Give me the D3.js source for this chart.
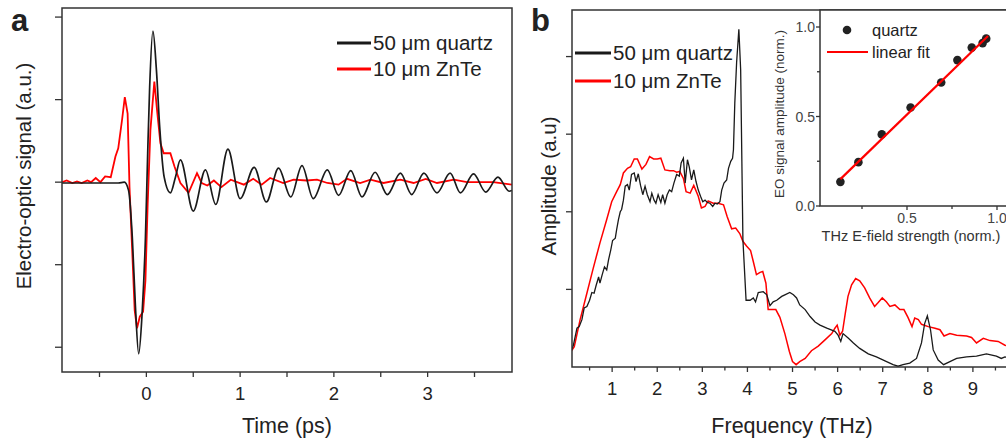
<!DOCTYPE html>
<html>
<head>
<meta charset="utf-8">
<script src="https://cdn.jsdelivr.net/npm/d3@7"></script>
<style>
  body { margin: 0; background: #fff; }
  svg { font-family: "Liberation Sans", Arial, sans-serif; }
</style>
</head>
<body>
<svg id="chart" width="1006" height="439"></svg>
<script>
// ---- panel a : time traces [time (ps), signal (a.u.)]
const quartzTrace = [[-0.9,-0.01],[-0.3,-0.01],[-0.235,0.0],[-0.19,-0.1],[-0.15,-0.67],[-0.117,-1.5],[-0.082,-2.08],[-0.046,-1.6],[-0.01,-0.67],[0.014,0.35],[0.035,1.15],[0.07,1.83],[0.107,1.36],[0.142,0.67],[0.19,0.06],[0.256,-0.13],[0.31,0.06],[0.363,0.27],[0.5,-0.35],[0.63,0.15],[0.74,-0.27],[0.87,0.4],[1.0,-0.2],[1.15,0.18],[1.28,-0.24],[1.41,0.17],[1.54,-0.18],[1.66,0.2],[1.78,-0.2],[1.93,0.15],[2.05,-0.16],[2.18,0.14],[2.3,-0.18],[2.44,0.12],[2.57,-0.15],[2.71,0.11],[2.83,-0.15],[2.96,0.11],[3.1,-0.13],[3.24,0.11],[3.35,-0.13],[3.49,0.1],[3.62,-0.12],[3.75,0.06],[3.87,-0.11],[3.9,-0.1]];
const znteTrace = [[-0.9,0.0],[-0.85,0.02],[-0.79,-0.01],[-0.74,0.01],[-0.69,-0.01],[-0.63,0.02],[-0.59,0.0],[-0.54,0.05],[-0.49,0.0],[-0.44,0.07],[-0.38,0.06],[-0.33,0.31],[-0.3,0.41],[-0.26,0.75],[-0.23,1.03],[-0.2,0.83],[-0.18,-0.06],[-0.15,-0.86],[-0.125,-1.55],[-0.1,-1.77],[-0.07,-1.63],[-0.035,-1.57],[-0.01,-1.19],[0.014,-0.26],[0.043,0.63],[0.085,1.22],[0.114,0.87],[0.15,0.47],[0.185,0.35],[0.256,0.35],[0.3,0.19],[0.363,-0.01],[0.45,-0.13],[0.54,0.11],[0.59,-0.01],[0.65,-0.04],[0.72,0.02],[0.8,-0.06],[0.9,0.03],[1.04,-0.03],[1.14,0.04],[1.23,-0.03],[1.32,0.05],[1.46,-0.01],[1.57,0.03],[1.71,0.02],[1.82,0.03],[1.93,-0.01],[2.05,-0.03],[2.14,0.04],[2.28,-0.01],[2.39,0.03],[2.53,-0.01],[2.71,0.03],[2.85,-0.01],[2.98,0.04],[3.1,-0.01],[3.28,0.03],[3.42,0.0],[3.56,0.0],[3.7,0.0],[3.9,-0.03]];
const timeTicks = [0, 1, 2, 3];
const timeMinor = [-0.5, 0.5, 1.5, 2.5, 3.5];
const signalTicks = [-2, -1, 0, 1, 2];

// ---- panel b : spectra [frequency (THz), amplitude (a.u.)]
const quartzSpectrum = [[0.1,0.22],[0.14,0.28],[0.22,0.5],[0.27,0.52],[0.33,0.61],[0.38,0.76],[0.44,0.78],[0.5,0.86],[0.55,0.96],[0.6,0.95],[0.64,1.04],[0.7,1.16],[0.73,1.08],[0.78,1.19],[0.83,1.29],[0.88,1.25],[0.92,1.38],[0.97,1.51],[1.01,1.63],[1.07,1.66],[1.1,1.77],[1.14,1.9],[1.18,2.0],[1.21,2.03],[1.25,2.15],[1.29,2.33],[1.34,2.35],[1.38,2.28],[1.43,2.48],[1.49,2.5],[1.53,2.39],[1.58,2.49],[1.63,2.34],[1.68,2.22],[1.73,2.33],[1.78,2.22],[1.84,2.13],[1.88,2.24],[1.93,2.15],[1.97,2.11],[2.02,2.22],[2.08,2.12],[2.12,2.22],[2.17,2.11],[2.22,2.22],[2.27,2.28],[2.32,2.26],[2.37,2.37],[2.43,2.48],[2.49,2.46],[2.53,2.63],[2.58,2.69],[2.62,2.37],[2.67,2.67],[2.71,2.58],[2.76,2.41],[2.81,2.54],[2.86,2.39],[2.91,2.28],[2.96,2.2],[3.01,2.13],[3.06,2.15],[3.11,2.12],[3.17,2.11],[3.23,2.07],[3.28,2.11],[3.33,2.1],[3.39,2.13],[3.43,2.28],[3.48,2.37],[3.54,2.41],[3.58,2.56],[3.63,2.65],[3.67,2.69],[3.69,2.8],[3.72,3.4],[3.76,3.92],[3.81,4.35],[3.85,3.83],[3.89,2.07],[3.9,1.64],[3.97,0.86],[4.06,0.86],[4.13,0.89],[4.18,0.84],[4.24,0.96],[4.35,0.97],[4.43,0.93],[4.5,0.79],[4.57,0.84],[4.65,0.86],[4.76,0.91],[4.83,0.93],[4.94,0.96],[5.02,0.93],[5.09,0.89],[5.16,0.8],[5.28,0.74],[5.39,0.65],[5.5,0.58],[5.61,0.54],[5.76,0.5],[5.94,0.46],[6.01,0.41],[6.07,0.33],[6.12,0.43],[6.24,0.37],[6.35,0.31],[6.49,0.24],[6.68,0.17],[6.86,0.13],[7.05,0.08],[7.23,0.03],[7.34,0.01],[7.45,0.03],[7.6,0.05],[7.75,0.11],[7.86,0.31],[7.93,0.56],[7.99,0.66],[8.06,0.48],[8.12,0.22],[8.23,0.09],[8.35,0.03],[8.49,0.07],[8.64,0.11],[8.86,0.13],[9.08,0.14],[9.3,0.17],[9.52,0.14],[9.63,0.11],[9.71,0.13],[9.8,0.12]];
const znteSpectrum = [[0.09,0.2],[0.16,0.26],[0.29,0.61],[0.44,0.95],[0.58,1.27],[0.73,1.6],[0.88,1.9],[0.99,2.13],[1.1,2.26],[1.18,2.35],[1.25,2.5],[1.34,2.56],[1.41,2.58],[1.49,2.68],[1.56,2.68],[1.66,2.55],[1.75,2.61],[1.83,2.71],[1.92,2.68],[2.0,2.68],[2.08,2.69],[2.17,2.54],[2.28,2.53],[2.36,2.53],[2.43,2.51],[2.5,2.52],[2.58,2.43],[2.64,2.26],[2.73,2.24],[2.81,2.34],[2.91,2.2],[2.98,2.05],[3.06,2.07],[3.13,2.14],[3.24,2.11],[3.35,2.11],[3.47,2.09],[3.55,1.94],[3.65,1.78],[3.74,1.79],[3.83,1.72],[3.9,1.62],[3.98,1.56],[4.07,1.5],[4.13,1.36],[4.2,1.19],[4.28,1.22],[4.34,1.23],[4.41,1.08],[4.46,0.74],[4.56,0.74],[4.63,0.74],[4.72,0.64],[4.83,0.43],[4.93,0.2],[5.0,0.07],[5.08,0.03],[5.16,0.07],[5.28,0.11],[5.42,0.21],[5.57,0.27],[5.72,0.35],[5.87,0.43],[5.94,0.5],[5.99,0.54],[6.05,0.41],[6.11,0.46],[6.17,0.69],[6.23,0.91],[6.31,1.06],[6.4,1.14],[6.49,1.11],[6.6,1.02],[6.71,0.89],[6.82,0.78],[6.9,0.83],[6.99,0.89],[7.08,0.84],[7.16,0.78],[7.27,0.8],[7.38,0.74],[7.47,0.74],[7.56,0.64],[7.65,0.52],[7.71,0.63],[7.79,0.61],[7.86,0.55],[8.01,0.52],[8.16,0.5],[8.27,0.48],[8.36,0.4],[8.49,0.43],[8.64,0.41],[8.86,0.4],[8.97,0.38],[9.08,0.31],[9.23,0.37],[9.38,0.34],[9.56,0.33],[9.71,0.28],[9.8,0.27]];
const freqTicks = [1, 2, 3, 4, 5, 6, 7, 8, 9];
const freqMinor = [0.5, 1.5, 2.5, 3.5, 4.5, 5.5, 6.5, 7.5, 8.5, 9.5];
const ampTicks = [1, 2, 3, 4];

// ---- inset : EO amplitude vs field strength
const fieldStrength = [0.13, 0.23, 0.36, 0.52, 0.69, 0.78, 0.86, 0.92, 0.94];
const eoAmplitude   = [0.135, 0.245, 0.40, 0.55, 0.69, 0.815, 0.885, 0.91, 0.935];
const fitLine = [[0.13, 0.15], [0.95, 0.95]];
const insetTicks = [0, 0.5, 1.0];
const insetMinor = [0.25, 0.75];

const BLACK = '#1a1a1a';
const RED = '#ff0000';
const AXIS = '#333';
const TEXT = '#222';

const svg = d3.select('#chart');

// clip helper
function addClip(id, x, y, w, h) {
  svg.append('clipPath').attr('id', id)
    .append('rect').attr('x', x).attr('y', y).attr('width', w).attr('height', h);
}

// tick helper : draws tick marks for a set of values
function ticks(g, vals, scale, orient, pos, len) {
  vals.forEach(v => {
    const p = scale(v);
    if (orient === 'bottom')
      g.append('line').attr('x1', p).attr('x2', p).attr('y1', pos).attr('y2', pos + len);
    else
      g.append('line').attr('y1', p).attr('y2', p).attr('x1', pos).attr('x2', pos - len);
  });
  g.attr('stroke', AXIS).attr('stroke-width', 1.3);
}

/* ================= PANEL A ================= */
const xA = d3.scaleLinear().domain([-0.9, 3.9]).range([62, 512]);
const yA = d3.scaleLinear().domain([-2.3, 2.11]).range([372, 8]);

addClip('clipA', 62, 8, 450, 364);

const lineA = d3.line().x(d => xA(d[0])).y(d => yA(d[1]));

svg.append('path')
  .attr('d', lineA.curve(d3.curveLinear)(znteTrace))
  .attr('clip-path', 'url(#clipA)')
  .attr('fill', 'none').attr('stroke', RED).attr('stroke-width', 1.8);

svg.append('path')
  .attr('d', lineA.curve(d3.curveMonotoneX)(quartzTrace))
  .attr('clip-path', 'url(#clipA)')
  .attr('fill', 'none').attr('stroke', BLACK).attr('stroke-width', 1.7);

// frame
svg.append('rect').attr('x', 62).attr('y', 8).attr('width', 450).attr('height', 364)
  .attr('fill', 'none').attr('stroke', AXIS).attr('stroke-width', 1.5);

ticks(svg.append('g'), timeTicks.concat(timeMinor), xA, 'bottom', 372, 5);
ticks(svg.append('g'), signalTicks, yA, 'left', 62, 7);

svg.append('g').selectAll('text').data(timeTicks).join('text')
  .attr('x', d => xA(d)).attr('y', 400)
  .attr('text-anchor', 'middle').style('font-size', '18.5px').style('fill', TEXT)
  .text(d => d);

svg.append('text').attr('x', 287).attr('y', 433).attr('text-anchor', 'middle')
  .style('font-size', '21.5px').style('fill', TEXT).text('Time (ps)');

svg.append('text').attr('transform', 'translate(31,176) rotate(-90)').attr('text-anchor', 'middle')
  .style('font-size', '20.5px').style('fill', TEXT).text('Electro-optic signal (a.u.)');

svg.append('text').attr('x', 11).attr('y', 31).style('font-size', '31px').style('font-weight', 'bold')
  .style('fill', TEXT).text('a');

// legend a
svg.append('line').attr('x1', 337).attr('x2', 371).attr('y1', 43).attr('y2', 43).attr('stroke', BLACK).attr('stroke-width', 3);
svg.append('text').attr('x', 373).attr('y', 50).style('font-size', '20.5px').style('fill', TEXT).text('50 \u03bcm quartz');
svg.append('line').attr('x1', 337).attr('x2', 371).attr('y1', 69).attr('y2', 69).attr('stroke', RED).attr('stroke-width', 3);
svg.append('text').attr('x', 373).attr('y', 76).style('font-size', '20.5px').style('fill', TEXT).text('10 \u03bcm ZnTe');

/* ================= PANEL B ================= */
const xB = d3.scaleLinear().domain([0.11, 10]).range([572, 1018]);
const yB = d3.scaleLinear().domain([0, 4.6]).range([367, 10]);

addClip('clipB', 572, 10, 446, 357);

const lineB = d3.line().x(d => xB(d[0])).y(d => yB(d[1]));

svg.append('path').attr('d', lineB(znteSpectrum)).attr('clip-path', 'url(#clipB)')
  .attr('fill', 'none').attr('stroke', RED).attr('stroke-width', 1.5);
svg.append('path').attr('d', lineB(quartzSpectrum)).attr('clip-path', 'url(#clipB)')
  .attr('fill', 'none').attr('stroke', BLACK).attr('stroke-width', 1.3);

svg.append('rect').attr('x', 572).attr('y', 10).attr('width', 446).attr('height', 357)
  .attr('fill', 'none').attr('stroke', AXIS).attr('stroke-width', 1.5);

ticks(svg.append('g'), freqTicks, xB, 'bottom', 367, 5);
ticks(svg.append('g'), freqMinor, xB, 'bottom', 367, 3.5);
ticks(svg.append('g'), ampTicks, yB, 'left', 572, 6);

svg.append('g').selectAll('text').data(freqTicks).join('text')
  .attr('x', d => xB(d)).attr('y', 395)
  .attr('text-anchor', 'middle').style('font-size', '18.5px').style('fill', TEXT)
  .text(d => d);

svg.append('text').attr('x', 792).attr('y', 433).attr('text-anchor', 'middle')
  .style('font-size', '21.5px').style('fill', TEXT).text('Frequency (THz)');

svg.append('text').attr('transform', 'translate(556,186) rotate(-90)').attr('text-anchor', 'middle')
  .style('font-size', '20.5px').style('fill', TEXT).text('Amplitude (a.u)');

svg.append('text').attr('x', 531).attr('y', 31).style('font-size', '31px').style('font-weight', 'bold')
  .style('fill', TEXT).text('b');

// legend b
svg.append('line').attr('x1', 575).attr('x2', 611).attr('y1', 53).attr('y2', 53).attr('stroke', BLACK).attr('stroke-width', 3);
svg.append('text').attr('x', 613).attr('y', 60).style('font-size', '20.5px').style('fill', TEXT).text('50 \u03bcm quartz');
svg.append('line').attr('x1', 575).attr('x2', 611).attr('y1', 81).attr('y2', 81).attr('stroke', RED).attr('stroke-width', 3);
svg.append('text').attr('x', 613).attr('y', 88).style('font-size', '20.5px').style('fill', TEXT).text('10 \u03bcm ZnTe');

/* ================= INSET ================= */
const xI = d3.scaleLinear().domain([0.0167, 1.1]).range([820, 1015]);
const yI = d3.scaleLinear().domain([0, 1.095]).range([206, 10]);

svg.append('rect').attr('x', 820).attr('y', 10).attr('width', 195).attr('height', 196)
  .attr('fill', '#fff').attr('stroke', AXIS).attr('stroke-width', 1.5);

svg.append('g').selectAll('circle').data(fieldStrength).join('circle')
  .attr('cx', d => xI(d)).attr('cy', (d, i) => yI(eoAmplitude[i])).attr('r', 4.3)
  .attr('fill', '#222');

svg.append('path').attr('d', d3.line().x(d => xI(d[0])).y(d => yI(d[1]))(fitLine))
  .attr('fill', 'none').attr('stroke', RED).attr('stroke-width', 2.2);

ticks(svg.append('g'), [0.5, 1.0], xI, 'bottom', 206, 4);
ticks(svg.append('g'), insetMinor, xI, 'bottom', 206, 3);
ticks(svg.append('g'), insetTicks, yI, 'left', 820, 4);
ticks(svg.append('g'), insetMinor, yI, 'left', 820, 3);

svg.append('g').selectAll('text').data([0.5, 1.0]).join('text')
  .attr('x', d => xI(d)).attr('y', 223).attr('text-anchor', 'middle')
  .style('font-size', '14px').style('fill', '#444').text(d => d.toFixed(1));
svg.append('g').selectAll('text').data(insetTicks).join('text')
  .attr('x', 815).attr('y', d => yI(d) + 5).attr('text-anchor', 'end')
  .style('font-size', '14px').style('fill', '#444').text(d => d.toFixed(1));

svg.append('text').attr('x', 911).attr('y', 241).attr('text-anchor', 'middle')
  .style('font-size', '14.5px').style('fill', '#333').text('THz E-field strength (norm.)');
svg.append('text').attr('transform', 'translate(784,114) rotate(-90)').attr('text-anchor', 'middle')
  .style('font-size', '13.5px').style('fill', '#333').text('EO signal amplitude (norm.)');

// inset legend
svg.append('circle').attr('cx', 847).attr('cy', 30).attr('r', 4.3).attr('fill', '#222');
svg.append('text').attr('x', 872).attr('y', 36).style('font-size', '16.5px').style('fill', TEXT).text('quartz');
svg.append('line').attr('x1', 827).attr('x2', 868).attr('y1', 52).attr('y2', 52).attr('stroke', RED).attr('stroke-width', 2.2);
svg.append('text').attr('x', 872).attr('y', 58).style('font-size', '16.5px').style('fill', TEXT).text('linear fit');
</script>
</body>
</html>
